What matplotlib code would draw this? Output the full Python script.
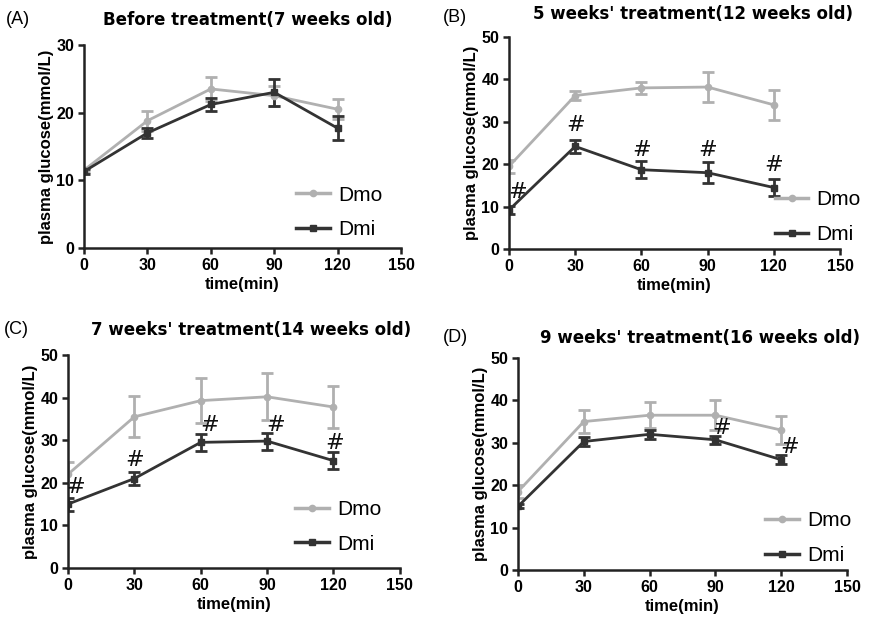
import numpy as np
import matplotlib
matplotlib.use("Agg")
import matplotlib.pyplot as plt
from matplotlib.lines import Line2D

plt.rcParams["font.family"] = ["Liberation Sans", "DejaVu Sans"]

# ── Data ─────────────────────────────────────
time_pts = [0, 30, 60, 90, 120]

titles = ["Before treatment(7 weeks old)",
          "5 weeks' treatment(12 weeks old)",
          "7 weeks' treatment(14 weeks old)",
          "9 weeks' treatment(16 weeks old)"]
panel_tags = ["(A)", "(B)", "(C)", "(D)"]
y_tops = [30, 50, 50, 50]

dmo_mean = [[11.5, 18.8, 23.5, 22.5, 20.5],
            [19.5, 36.2, 38.0, 38.2, 34.0],
            [22.0, 35.5, 39.3, 40.2, 37.8],
            [18.5, 35.0, 36.5, 36.5, 33.0]]
dmo_err = [[0.3, 1.5, 1.8, 1.5, 1.5],
           [1.5, 1.0, 1.5, 3.5, 3.5],
           [3.0, 4.8, 5.3, 5.5, 5.0],
           [1.5, 2.8, 3.0, 3.5, 3.2]]
dmi_mean = [[11.3, 17.0, 21.2, 23.0, 17.7],
            [9.2, 24.2, 18.7, 18.0, 14.5],
            [15.0, 21.0, 29.5, 29.8, 25.2],
            [15.0, 30.3, 32.0, 30.7, 26.0]]
dmi_err = [[0.3, 0.8, 1.0, 2.0, 1.8],
           [1.0, 1.5, 2.0, 2.5, 2.0],
           [1.5, 1.5, 2.0, 2.0, 2.0],
           [0.5, 1.0, 1.0, 1.0, 1.0]]

# significance marks (#), centre positions in data units
hash_x = [[], [4, 30, 60, 90, 120], [3.5, 30, 64, 94, 120.5], [93, 124]]
hash_y = [[], [13.4, 29.2, 23.3, 23.3, 19.8], [19.0, 25.4, 33.6, 33.6, 29.3], [33.5, 29.0]]

LIGHT = "#b0b0b0"
DARK = "#333333"

# ── Layout (figure fractions) ────────────────
boxes = [[0.0957, 0.5994, 0.361, 0.328],
         [0.5797, 0.5977, 0.377, 0.3425],
         [0.0774, 0.0824, 0.378, 0.344],
         [0.590, 0.0792, 0.3747, 0.3425]]
title_pos = [(248, 20), (693, 14), (251, 330), (700, 338)]   # pixel centres
tag_pos = [(6, 20), (443, 18), (4, 330), (443, 338)]
legend_anchor = [(1.0, -0.05), (1.12, -0.065), (1.0, -0.02), (1.07, -0.065)]

W, H = 878, 619
fig = plt.figure(figsize=(W / 100, H / 100), dpi=100)

for i in range(4):
    ax = fig.add_axes(boxes[i])
    ax.errorbar(time_pts, dmo_mean[i], yerr=dmo_err[i], color=LIGHT, marker="o",
                ms=4.5, lw=2, elinewidth=2, capsize=4, capthick=2)
    ax.errorbar(time_pts, dmi_mean[i], yerr=dmi_err[i], color=DARK, marker="s",
                ms=4.5, lw=2, elinewidth=2, capsize=4, capthick=2)
    for hx, hy in zip(hash_x[i], hash_y[i]):
        ax.text(hx, hy, "#", fontsize=16, color="#111111", ha="center", va="center",
                family="DejaVu Sans")

    ax.set_xlim(0, 150)
    ax.set_ylim(0, y_tops[i])
    ax.set_xticks([0, 30, 60, 90, 120, 150])
    ax.set_yticks(np.arange(0, y_tops[i] + 1, 10))
    for s in ["top", "right"]:
        ax.spines[s].set_visible(False)
    for s in ["left", "bottom"]:
        ax.spines[s].set_linewidth(1.8)
        ax.spines[s].set_color("#222222")
    ax.tick_params(width=1.8, length=4, labelsize=11.5, color="#222222", pad=3)
    for lbl in ax.get_xticklabels() + ax.get_yticklabels():
        lbl.set_fontweight("bold")
    ax.set_xlabel("time(min)", fontsize=12, fontweight="bold", labelpad=3)
    ax.set_ylabel("plasma glucose(mmol/L)", fontsize=12, fontweight="bold", labelpad=2)

    fig.text(title_pos[i][0] / W, 1 - title_pos[i][1] / H, titles[i],
             fontsize=12, fontweight="bold", family="DejaVu Sans",
             ha="center", va="center")
    fig.text(tag_pos[i][0] / W, 1 - tag_pos[i][1] / H, panel_tags[i],
             fontsize=13, ha="left", va="center")

    handles = [Line2D([], [], color=LIGHT, marker="o", ms=4.5, lw=2.5),
               Line2D([], [], color=DARK, marker="s", ms=4.5, lw=2.5)]
    ax.legend(handles, ["Dmo", "Dmi"], loc="lower right", bbox_to_anchor=legend_anchor[i],
              frameon=False, fontsize=15, handlelength=1.6, handletextpad=0.4,
              labelspacing=0.75)

fig.savefig("out.png", dpi=100)
